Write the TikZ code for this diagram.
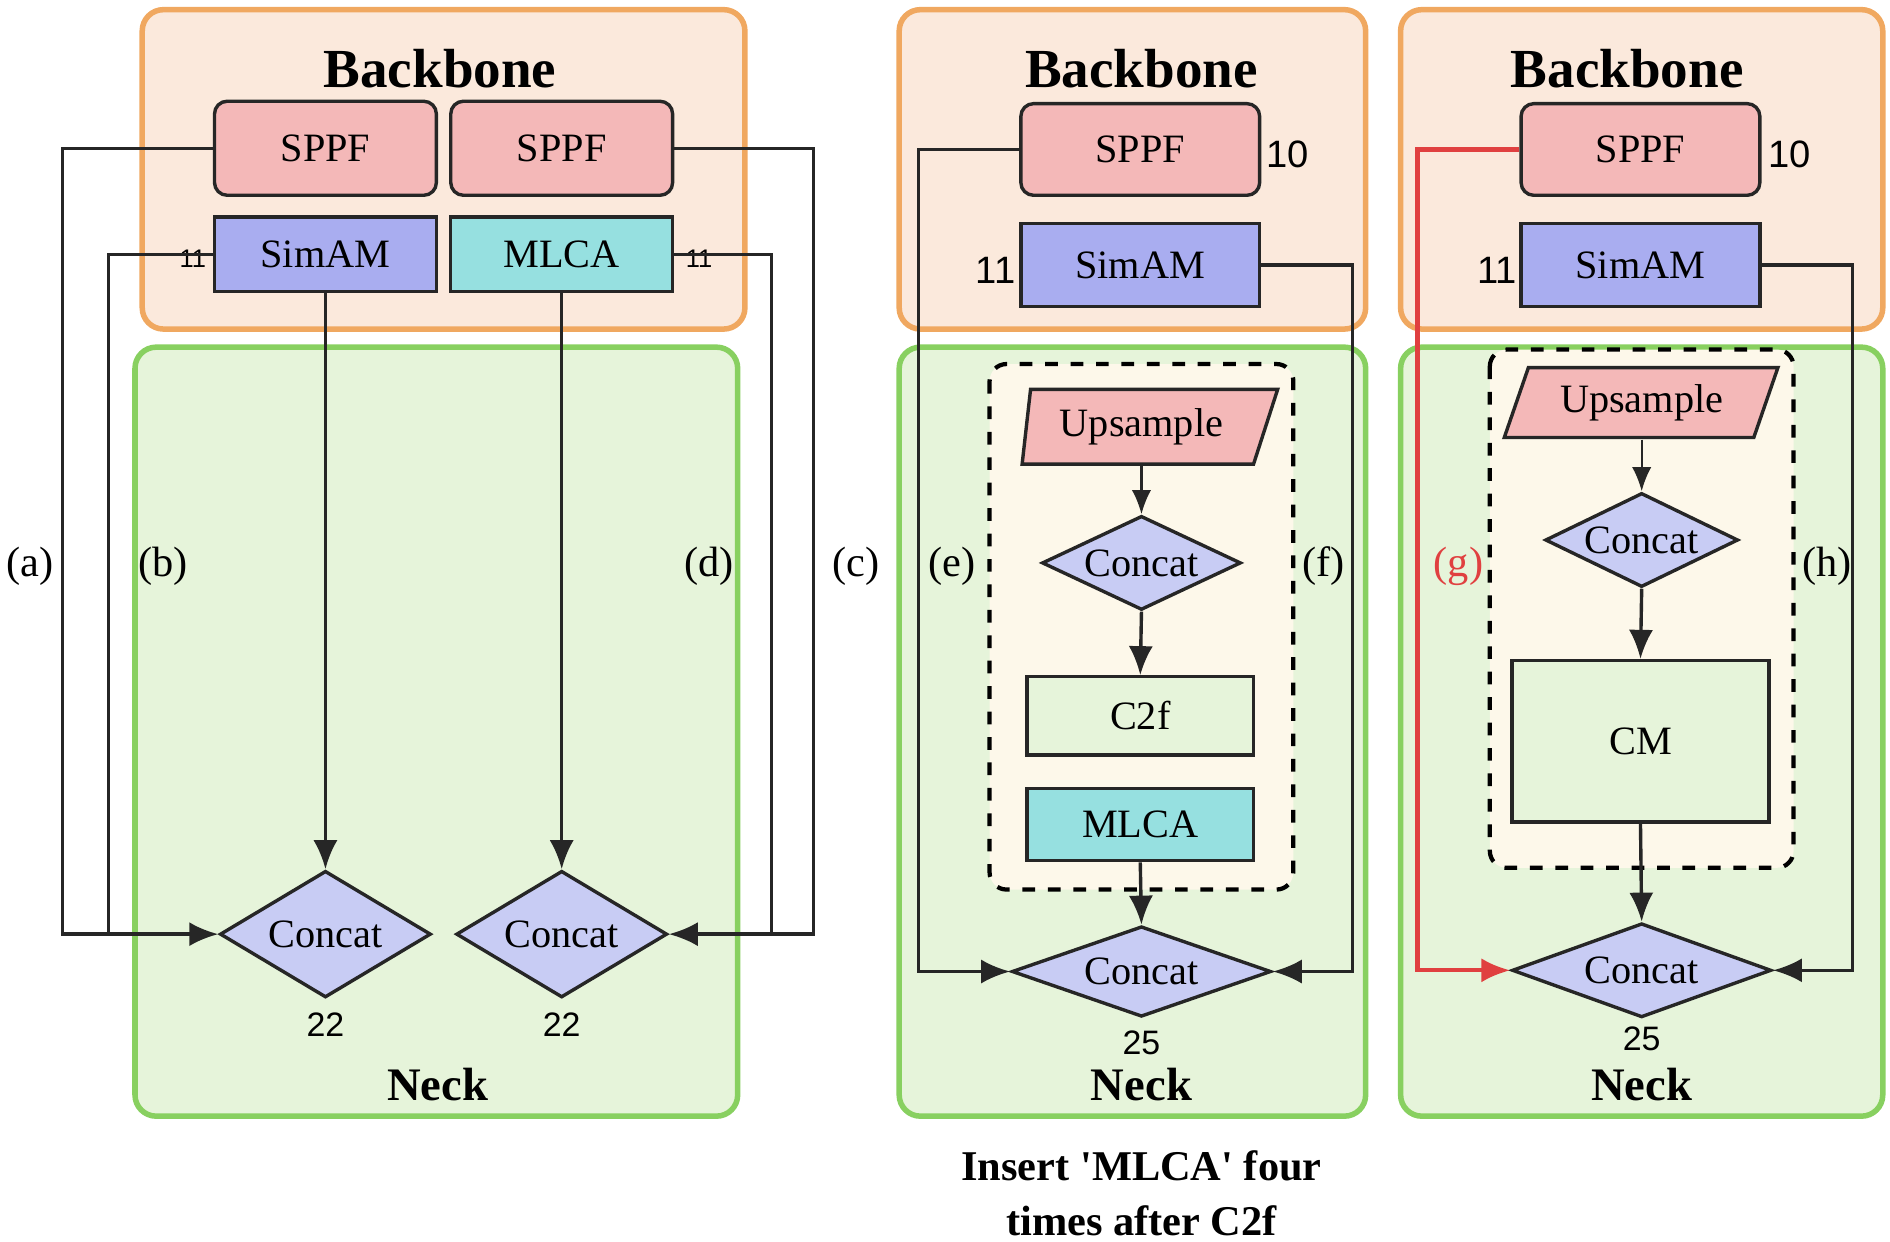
\documentclass[tikz,border=0pt]{standalone}
\usepackage{fontspec}
\setmainfont{Liberation Serif}
\newfontfamily\sansf{Liberation Sans}
\usetikzlibrary{shapes.geometric,arrows.meta}
\definecolor{orF}{HTML}{FBE9DC}\definecolor{orB}{HTML}{F0A860}
\definecolor{grF}{HTML}{E6F4DA}\definecolor{grB}{HTML}{88D060}
\definecolor{sp}{HTML}{F4B8B8}\definecolor{sa}{HTML}{A9ADF0}
\definecolor{ml}{HTML}{96E0E0}\definecolor{di}{HTML}{C8CCF4}
\definecolor{dsh}{HTML}{FDF8EA}\definecolor{rd}{HTML}{E04040}
\begin{document}
\begin{tikzpicture}[x=0.01cm,y=-0.01cm,
 fs/.style={font=\fontsize{9.5}{11}\selectfont},
 bb/.style={draw=orB,fill=orF,line width=1.3pt,rounded corners=5pt},
 nk/.style={draw=grB,fill=grF,line width=1.3pt,rounded corners=5pt},
 blk/.style={draw=black!85,line width=0.8pt,rounded corners=3pt,fs,inner sep=0},
 dia/.style={diamond,draw=black!85,fill=di,line width=0.8pt,fs,inner sep=0,aspect=2.2},
 up/.style={fs,minimum width=2.0cm,minimum height=0.6cm,inner sep=0},
 para/.style={draw=black!85,fill=sp,line width=0.8pt},
 ln/.style={draw=black!85,line width=0.8pt},
 ar/.style={ln,-{Latex[length=0.24cm,width=0.2cm]}},
 tl/.style={fs,font=\fontsize{13}{15}\selectfont\bfseries},
 num/.style={font=\sansf\fontsize{8}{10}\selectfont},
 lab/.style={font=\fontsize{10}{12}\selectfont}]
\useasboundingbox (0,0) rectangle (1568,1030);
% ---------- panel 1
\draw[bb] (118,8) rectangle (618,273);
\draw[nk] (112,288) rectangle (612,926);
\node[tl] at (365,57) {Backbone};
\node[tl,font=\fontsize{11}{13}\selectfont\bfseries] at (363,900) {Neck};
\node[blk,fill=sp,minimum width=1.84cm,minimum height=0.78cm] (s1) at (270,123) {SPPF};
\node[blk,fill=sp,minimum width=1.84cm,minimum height=0.78cm] (s2) at (466,123) {SPPF};
\node[blk,fill=sa,rounded corners=0,minimum width=1.84cm,minimum height=0.62cm] (a1) at (270,211) {SimAM};
\node[blk,fill=ml,rounded corners=0,minimum width=1.84cm,minimum height=0.62cm] (m1) at (466,211) {MLCA};
\node[dia,minimum width=1.75cm,minimum height=1.05cm] (c1) at (270,775) {Concat};
\node[dia,minimum width=1.75cm,minimum height=1.05cm] (c2) at (466,775) {Concat};
\node[num] at (270,850) {22};\node[num] at (466,850) {22};
\node[num,font=\sansf\fontsize{6}{7}\selectfont] at (160,215) {11};
\node[num,font=\sansf\fontsize{6}{7}\selectfont] at (580,215) {11};
\coordinate (j1) at (90,775);\coordinate (j2) at (640,775);
\draw[ar] (s1.west) -| (52,775) -- (c1.west);
\draw[ln] (a1.west) -| (j1);
\draw[ar] (a1.south) -- (c1.north);
\draw[ar] (m1.south) -- (c2.north);
\draw[ar] (s2.east) -| (675,775) -- (c2.east);
\draw[ln] (m1.east) -| (j2);
\node[lab] at (25,470) {(a)};\node[lab] at (135,470) {(b)};
\node[lab] at (588,470) {(d)};\node[lab] at (710,470) {(c)};
% ---------- panel 2
\draw[bb] (746,8) rectangle (1133,273);
\draw[nk] (746,288) rectangle (1133,926);
\node[tl] at (947,57) {Backbone};
\node[tl,font=\fontsize{11}{13}\selectfont\bfseries] at (947,900) {Neck};
\draw[line width=1pt,dashed,fill=dsh,rounded corners=4pt] (821,302) rectangle (1073,738);
\node[blk,fill=sp,minimum width=1.98cm,minimum height=0.76cm] (s3) at (946,124) {SPPF};
\node[blk,fill=sa,rounded corners=0,minimum width=1.98cm,minimum height=0.69cm] (a3) at (946,220) {SimAM};
\node[num,font=\sansf\fontsize{9}{10}\selectfont] at (1068,128) {10};
\node[num,font=\sansf\fontsize{9}{10}\selectfont] at (826,224) {11};
\draw[para] (848,385) -- (1040,385) -- (1060,323) -- (855,323) -- cycle;
\node[up] (u2) at (947,354) {Upsample};
\node[dia,minimum width=1.65cm,minimum height=0.78cm] (k2) at (947,467) {Concat};
\node[blk,fill=grF,rounded corners=0,minimum width=1.88cm,minimum height=0.65cm] (f2) at (946,594) {C2f};
\node[blk,fill=ml,rounded corners=0,minimum width=1.88cm,minimum height=0.6cm] (m2) at (946,684) {MLCA};
\node[dia,minimum width=2.15cm,minimum height=0.75cm] (c3) at (947,806) {Concat};
\node[num] at (947,865) {25};
\draw[ln,line width=0.5pt,-{Latex[length=0.2cm,width=0.16cm]}] (u2.south) -- (k2.north);
\draw[ar] (k2.south) -- (f2.north);
\draw[ar] (m2.south) -- (c3.north);
\draw[ar] (s3.west) -| (762,806) -- (c3.west);
\draw[ar] (a3.east) -| (1122,806) -- (c3.east);
\node[lab] at (790,470) {(e)};\node[lab] at (1098,470) {(f)};
\node[font=\fontsize{10}{13}\selectfont\bfseries,align=center] at (947,990) {Insert \textquotesingle MLCA\textquotesingle\ four\\times after C2f};
% ---------- panel 3
\draw[bb] (1162,8) rectangle (1562,273);
\draw[nk] (1162,288) rectangle (1562,926);
\node[tl] at (1350,57) {Backbone};
\node[tl,font=\fontsize{11}{13}\selectfont\bfseries] at (1362,900) {Neck};
\draw[line width=1pt,dashed,fill=dsh,rounded corners=4pt] (1236,290) rectangle (1488,720);
\node[blk,fill=sp,minimum width=1.98cm,minimum height=0.76cm] (s4) at (1361,124) {SPPF};
\node[blk,fill=sa,rounded corners=0,minimum width=1.98cm,minimum height=0.69cm] (a4) at (1361,220) {SimAM};
\node[num,font=\sansf\fontsize{9}{10}\selectfont] at (1485,128) {10};
\node[num,font=\sansf\fontsize{9}{10}\selectfont] at (1242,224) {11};
\draw[para] (1248,363) -- (1455,363) -- (1475,305) -- (1268,305) -- cycle;
\node[up] (u3) at (1362,334) {Upsample};
\node[dia,minimum width=1.6cm,minimum height=0.78cm] (k3) at (1362,448) {Concat};
\node[blk,fill=grF,rounded corners=0,minimum width=2.13cm,minimum height=1.34cm] (cm) at (1361,615) {CM};
\node[dia,minimum width=2.15cm,minimum height=0.78cm] (c4) at (1362,805) {Concat};
\node[num] at (1362,862) {25};
\draw[ln,line width=0.5pt,-{Latex[length=0.2cm,width=0.16cm]}] (u3.south) -- (k3.north);
\draw[ar] (k3.south) -- (cm.north);
\draw[ar] (cm.south) -- (c4.north);
\draw[ar,draw=rd,line width=1pt] (s4.west) -| (1176,805) -- (c4.west);
\draw[ar] (a4.east) -| (1537,805) -- (c4.east);
\node[lab,text=rd] at (1210,470) {(g)};\node[lab] at (1516,470) {(h)};
\end{tikzpicture}
\end{document}
